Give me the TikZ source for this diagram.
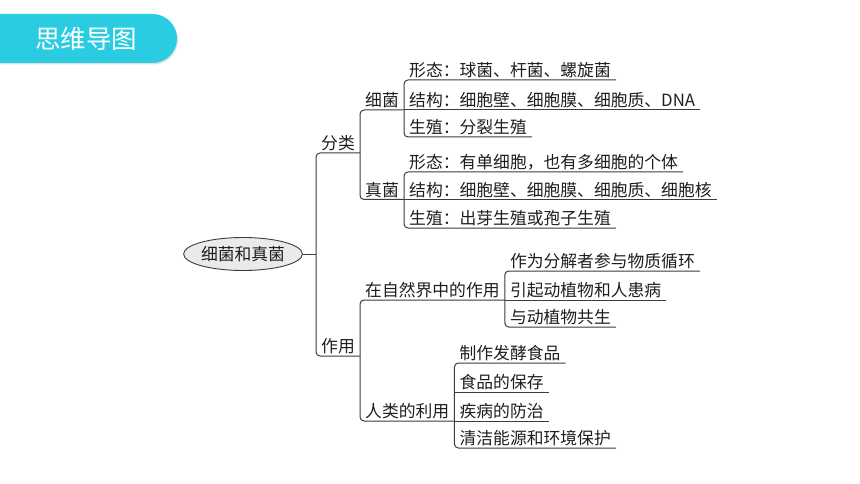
\documentclass[tikz,border=0pt]{standalone}
\usepackage{fontspec}
\setmainfont{Noto Sans CJK SC}
\usetikzlibrary{shapes.geometric,shadows}
\definecolor{banner}{RGB}{41,204,224}
\definecolor{ln}{RGB}{60,60,60}
\definecolor{tx}{RGB}{30,30,30}
\definecolor{ellfill}{RGB}{234,234,234}
\begin{document}
\begin{tikzpicture}[x=1pt,y=-1pt,
  lbl/.style={anchor=south west, inner xsep=5pt, inner ysep=1.5pt, font=\fontsize{16.8}{18}\selectfont, text=tx},
  conn/.style={draw=ln, line width=1pt, rounded corners=4pt},
]
\useasboundingbox (0,0) rectangle (860,484);
% banner
\fill[banner, rounded corners=24.5pt, drop shadow={opacity=0.25, shadow xshift=1pt, shadow yshift=-1.5pt}] (-40,14) rectangle (177,63);
\node[text=white, font=\fontsize{25.5}{27}\selectfont] (title) at (86,38.5) {思维导图};
% root
\node[ellipse, draw=ln, fill=ellfill, line width=0.9pt, minimum width=112pt, minimum height=33pt, inner sep=0pt, font=\fontsize{16.8}{18}\selectfont, text=tx] (root) at (243,254) {细菌和真菌};
% level 1
\node[lbl] (fl) at (316,153) {分类};
\node[lbl] (zy) at (316,356) {作用};
\coordinate (t1) at (316,254);
\draw[conn] (root.east) -- (t1);
\draw[conn] (fl.south east) -- (fl.south west) -- (zy.south west) -- (zy.south east);
% level 2 under 分类
\node[lbl] (xj) at (fl.south east |- 0,110) {细菌};
\node[lbl] (zj) at (fl.south east |- 0,199.5) {真菌};
\draw[conn] (xj.south east) -- (xj.south west) -- (zj.south west) -- (zj.south east);
% leaves under 细菌
\node[lbl] (x1) at (xj.south east |- 0,80) {形态：球菌、杆菌、螺旋菌};
\node[lbl] (x2) at (xj.south east |- 0,110) {结构：细胞壁、细胞膜、细胞质、DNA};
\node[lbl] (x3) at (xj.south east |- 0,137) {生殖：分裂生殖};
\draw[conn] (x1.south east) -- (x1.south west) -- (x3.south west) -- (x3.south east);
\draw[conn] (x2.south west) -- (x2.south east);
% leaves under 真菌
\node[lbl] (z1) at (zj.south east |- 0,172) {形态：有单细胞，也有多细胞的个体};
\node[lbl] (z2) at (zj.south east |- 0,199.5) {结构：细胞壁、细胞膜、细胞质、细胞核};
\node[lbl] (z3) at (zj.south east |- 0,228) {生殖：出芽生殖或孢子生殖};
\draw[conn] (z1.south east) -- (z1.south west) -- (z3.south west) -- (z3.south east);
\draw[conn] (z2.south west) -- (z2.south east);
% level 2 under 作用
\node[lbl] (n1) at (zy.south east |- 0,300) {在自然界中的作用};
\node[lbl] (n2) at (zy.south east |- 0,421) {人类的利用};
\draw[conn] (n1.south east) -- (n1.south west) -- (n2.south west) -- (n2.south east);
% leaves under 在自然界中的作用
\node[lbl] (a1) at (n1.south east |- 0,271) {作为分解者参与物质循环};
\node[lbl] (a2) at (n1.south east |- 0,300) {引起动植物和人患病};
\node[lbl] (a3) at (n1.south east |- 0,327) {与动植物共生};
\draw[conn] (a1.south east) -- (a1.south west) -- (a3.south west) -- (a3.south east);
\draw[conn] (a2.south west) -- (a2.south east);
% leaves under 人类的利用
\node[lbl] (b1) at (n2.south east |- 0,363) {制作发酵食品};
\node[lbl] (b2) at (n2.south east |- 0,392) {食品的保存};
\node[lbl] (b3) at (n2.south east |- 0,421) {疾病的防治};
\node[lbl] (b4) at (n2.south east |- 0,448) {清洁能源和环境保护};
\draw[conn] (b1.south east) -- (b1.south west) -- (b4.south west) -- (b4.south east);
\draw[conn] (b2.south west) -- (b2.south east);
\draw[conn] (b3.south west) -- (b3.south east);
\end{tikzpicture}
\end{document}
